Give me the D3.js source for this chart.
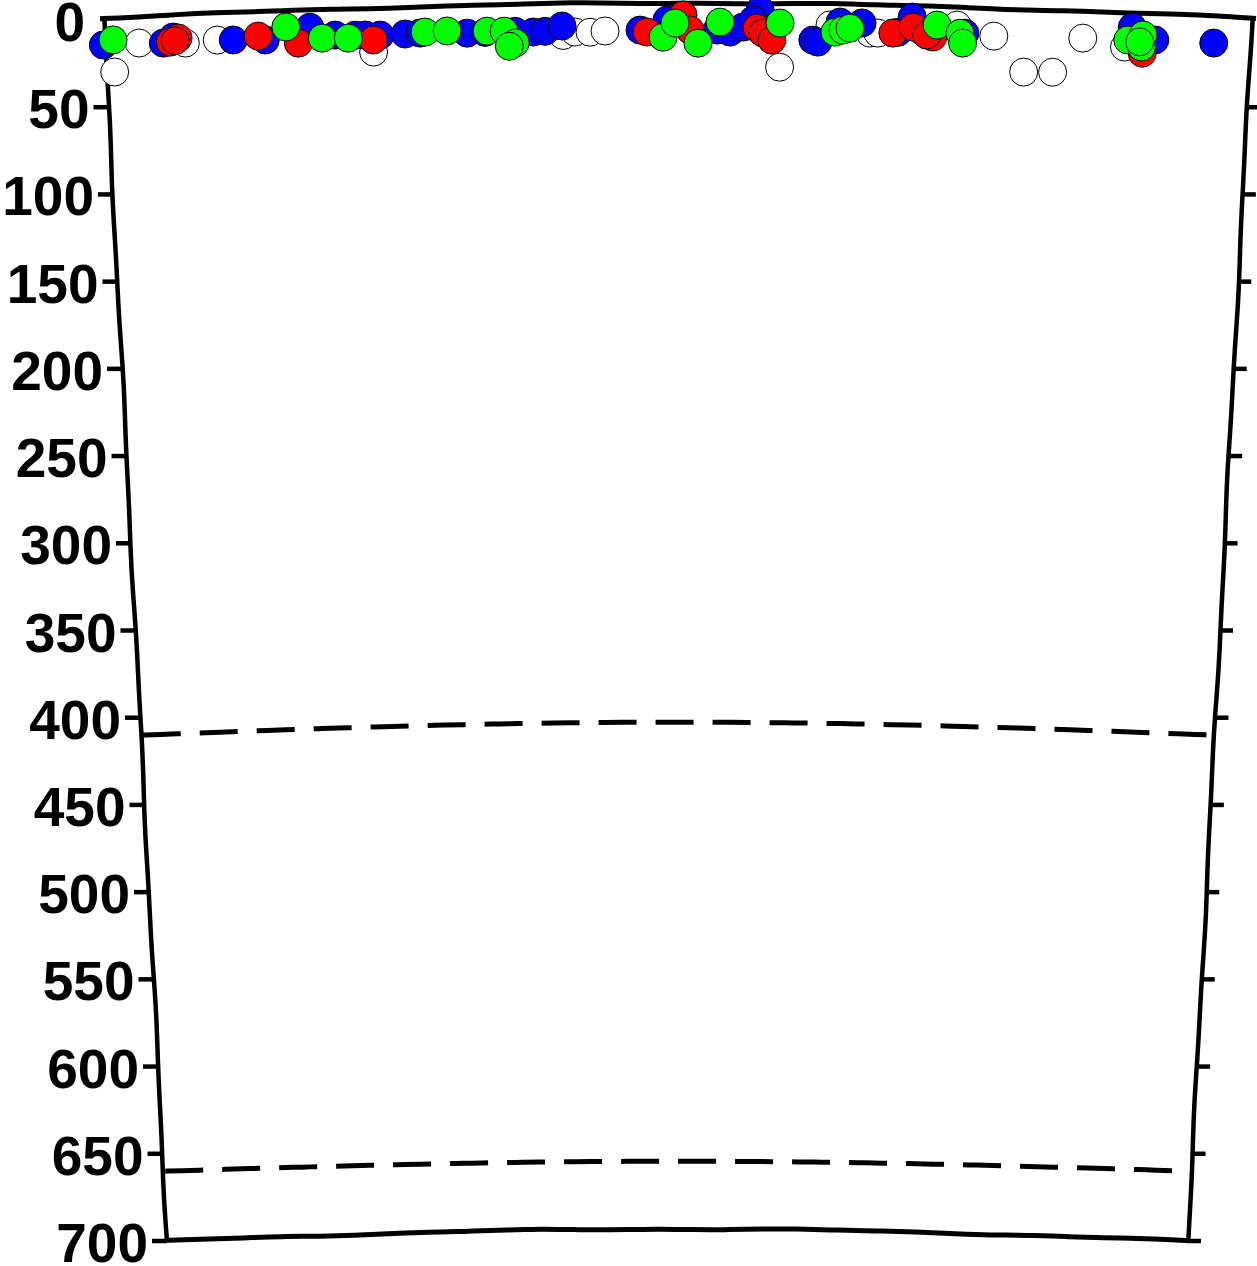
<!DOCTYPE html>
<html>
<head>
<meta charset="utf-8">
<script src="https://cdn.jsdelivr.net/npm/d3@7"></script>
<style>
  body { margin: 0; background: #fff; }
  svg { display: block; }
</style>
</head>
<body>
<svg id="chart" width="1257" height="1266"></svg>
<script>
// depth axis (km)
let depthTicks = [0, 50, 100, 150, 200, 250, 300, 350, 400, 450, 500, 550, 600, 650, 700];
// 410 / 660 discontinuities
let discontinuities = [410, 660];

// events: [position along section, depth km]
let openEvents = [[34,14.0],[8,30.0],[80,15.1],[112,14.1],[268,24.1],[458,17],[470,15.1],[485,15.3],[500,14.7],
  [675,35.2],[725,10.7],[765,14.9],[773,14.8],[818,13.5],[852,9.1],[889,14.8],[978,14.2],[920,34.8],[949,34.3],[1020,18.4]];
let blueEvents = [[-2,14.3],[58,14.6],[68,11.4],[128,14.4],[160,15.1],[205,8.7],[230,13.7],[250,14.1],[260,14.2],
  [275,14.5],[300,14.3],[315,14],[362,14.7],[380,14.5],[410,14.2],[428,14.8],[440,14.5],[457,11.6],[535,14.3],
  [562,8.6],[612,14.3],[625,15.4],[638,12.5],[655,2.6],[648,8.4],[708,19.5],[713,20.6],[735,8.9],[757,9.2],
  [793,14.1],[807,5.2],[860,13.6],[1027,6.8],[1050,13.7],[1109,14.1]];
let redEvents = [[65,14.2],[73,12.0],[70,13.5],[153,12.7],[193,17.6],[268,17.2],[542,15.4],[578,5.7],[585,14.3],
  [652,13.0],[658,15.8],[667,19.8],[788,14.6],[808,10.9],[828,16.3],[822,15.3],[1038,21.5]];
let greenEvents = [[8,11.6],[181,8.1],[217,15.2],[243,15.7],[320,13.5],[342,13.2],[382,13.8],[399,14.0],[410,20.9],
  [404,22.7],[558,18.4],[570,10.3],[593,21.8],[615,9.7],[675,10.0],[730,14.7],[738,13.5],[745,12.3],[832,9.4],
  [855,13.7],[858,19.3],[1023,14.3],[1038,11.1],[1037,18.0],[1035,15.1]];

let svg = d3.select('#chart');

// scales + the warped (hand drawn) box
let x = d3.scaleLinear().domain([0, 1146]).range([0, 1]);
let y = d3.scaleLinear().domain([0, 700]).range([20, 1241]);
let leftEdge = d3.scaleLinear().domain([0, 700]).range([104, 167]);
let rightEdge = d3.scaleLinear().domain([0, 700]).range([1252, 1188]);
let bow = d3.scaleLinear().domain([0, 410, 660, 700]).range([15, 13, 10, 12]);

function project(pos, depth) {
    let u = x(pos);
    let xl = leftEdge(depth), xr = rightEdge(depth);
    return [xl + u * (xr - xl), y(depth) - bow(depth) * Math.sin(Math.PI * u)];
}

// tiny wobble so lines look drawn by hand
function wobble(t) {
    return 0.6 * Math.sin(t * 0.02) + 0.3 * Math.sin(t * 0.05 + 1.3);
}

let line = d3.line().curve(d3.curveBasis);

function edgePoints(from, to, n) {
    // from/to: [pos, depth]
    return d3.range(n + 1).map(function(i) {
        let t = i / n;
        return project(from[0] + t * (to[0] - from[0]), from[1] + t * (to[1] - from[1]));
    });
}

let ink = svg.append('g')
    .attr('fill', 'none')
    .attr('stroke', '#000')
    .attr('stroke-linejoin', 'round');

// top
ink.append('path')
    .attr('d', line(edgePoints([-4, 0], [1150, 0], 60).map(function(p) { return [p[0], p[1] - 2 + wobble(p[0])]; })))
    .attr('stroke-width', 5);
// bottom
ink.append('path')
    .attr('d', line(edgePoints([0, 700], [1146, 700], 60).map(function(p) { return [p[0], p[1] + wobble(p[0] + 40)]; })))
    .attr('stroke-width', 5);
// left / right sides
ink.append('path')
    .attr('d', line(edgePoints([0, 0], [0, 700], 60).map(function(p) { return [p[0] + wobble(p[1]), p[1]]; })))
    .attr('stroke-width', 4.5);
ink.append('path')
    .attr('d', line(edgePoints([1146, 0], [1146, 700], 60).map(function(p) { return [p[0] + wobble(p[1] + 90), p[1]]; })))
    .attr('stroke-width', 4.5);

// ticks
ink.selectAll('.tick-left')
    .data(depthTicks.filter(function(d) { return d > 0; }))
    .join('line')
    .attr('x1', function(d) { return leftEdge(d) - 15; })
    .attr('x2', function(d) { return leftEdge(d); })
    .attr('y1', function(d) { return y(d); })
    .attr('y2', function(d) { return y(d); })
    .attr('stroke-width', 4.5);
ink.selectAll('.tick-right')
    .data(depthTicks.filter(function(d) { return d > 0; }))
    .join('line')
    .attr('x1', function(d) { return rightEdge(d); })
    .attr('x2', function(d) { return rightEdge(d) + 13; })
    .attr('y1', function(d) { return y(d); })
    .attr('y2', function(d) { return y(d); })
    .attr('stroke-width', 4.5);

// 410 / 660 dashed lines
ink.selectAll('.disc')
    .data(discontinuities)
    .join('path')
    .attr('d', function(d) { return line(edgePoints([2, d], [1144, d], 60)); })
    .attr('stroke-width', 5)
    .attr('stroke-dasharray', '38,19');

// depth labels
svg.append('g')
    .selectAll('text')
    .data(depthTicks)
    .join('text')
    .attr('x', function(d) { return leftEdge(d) - 19; })
    .attr('y', function(d) { return y(d) + 21; })
    .attr('text-anchor', 'end')
    .attr('font-family', '"Liberation Sans", Arial, Helvetica, sans-serif')
    .attr('font-weight', 'bold')
    .attr('font-size', 55)
    .text(function(d) { return d; });

// events
let series = [
    { data: openEvents, color: '#ffffff' },
    { data: blueEvents, color: '#0000ff' },
    { data: redEvents, color: '#ff0000' },
    { data: greenEvents, color: '#00ff00' }
];
series.forEach(function(s) {
    svg.append('g')
        .selectAll('circle')
        .data(s.data)
        .join('circle')
        .attr('cx', function(d) { return project(d[0], d[1])[0]; })
        .attr('cy', function(d) { return project(d[0], d[1])[1]; })
        .attr('r', 14)
        .attr('fill', s.color)
        .attr('stroke', '#000')
        .attr('stroke-width', 1);
});
</script>
</body>
</html>
